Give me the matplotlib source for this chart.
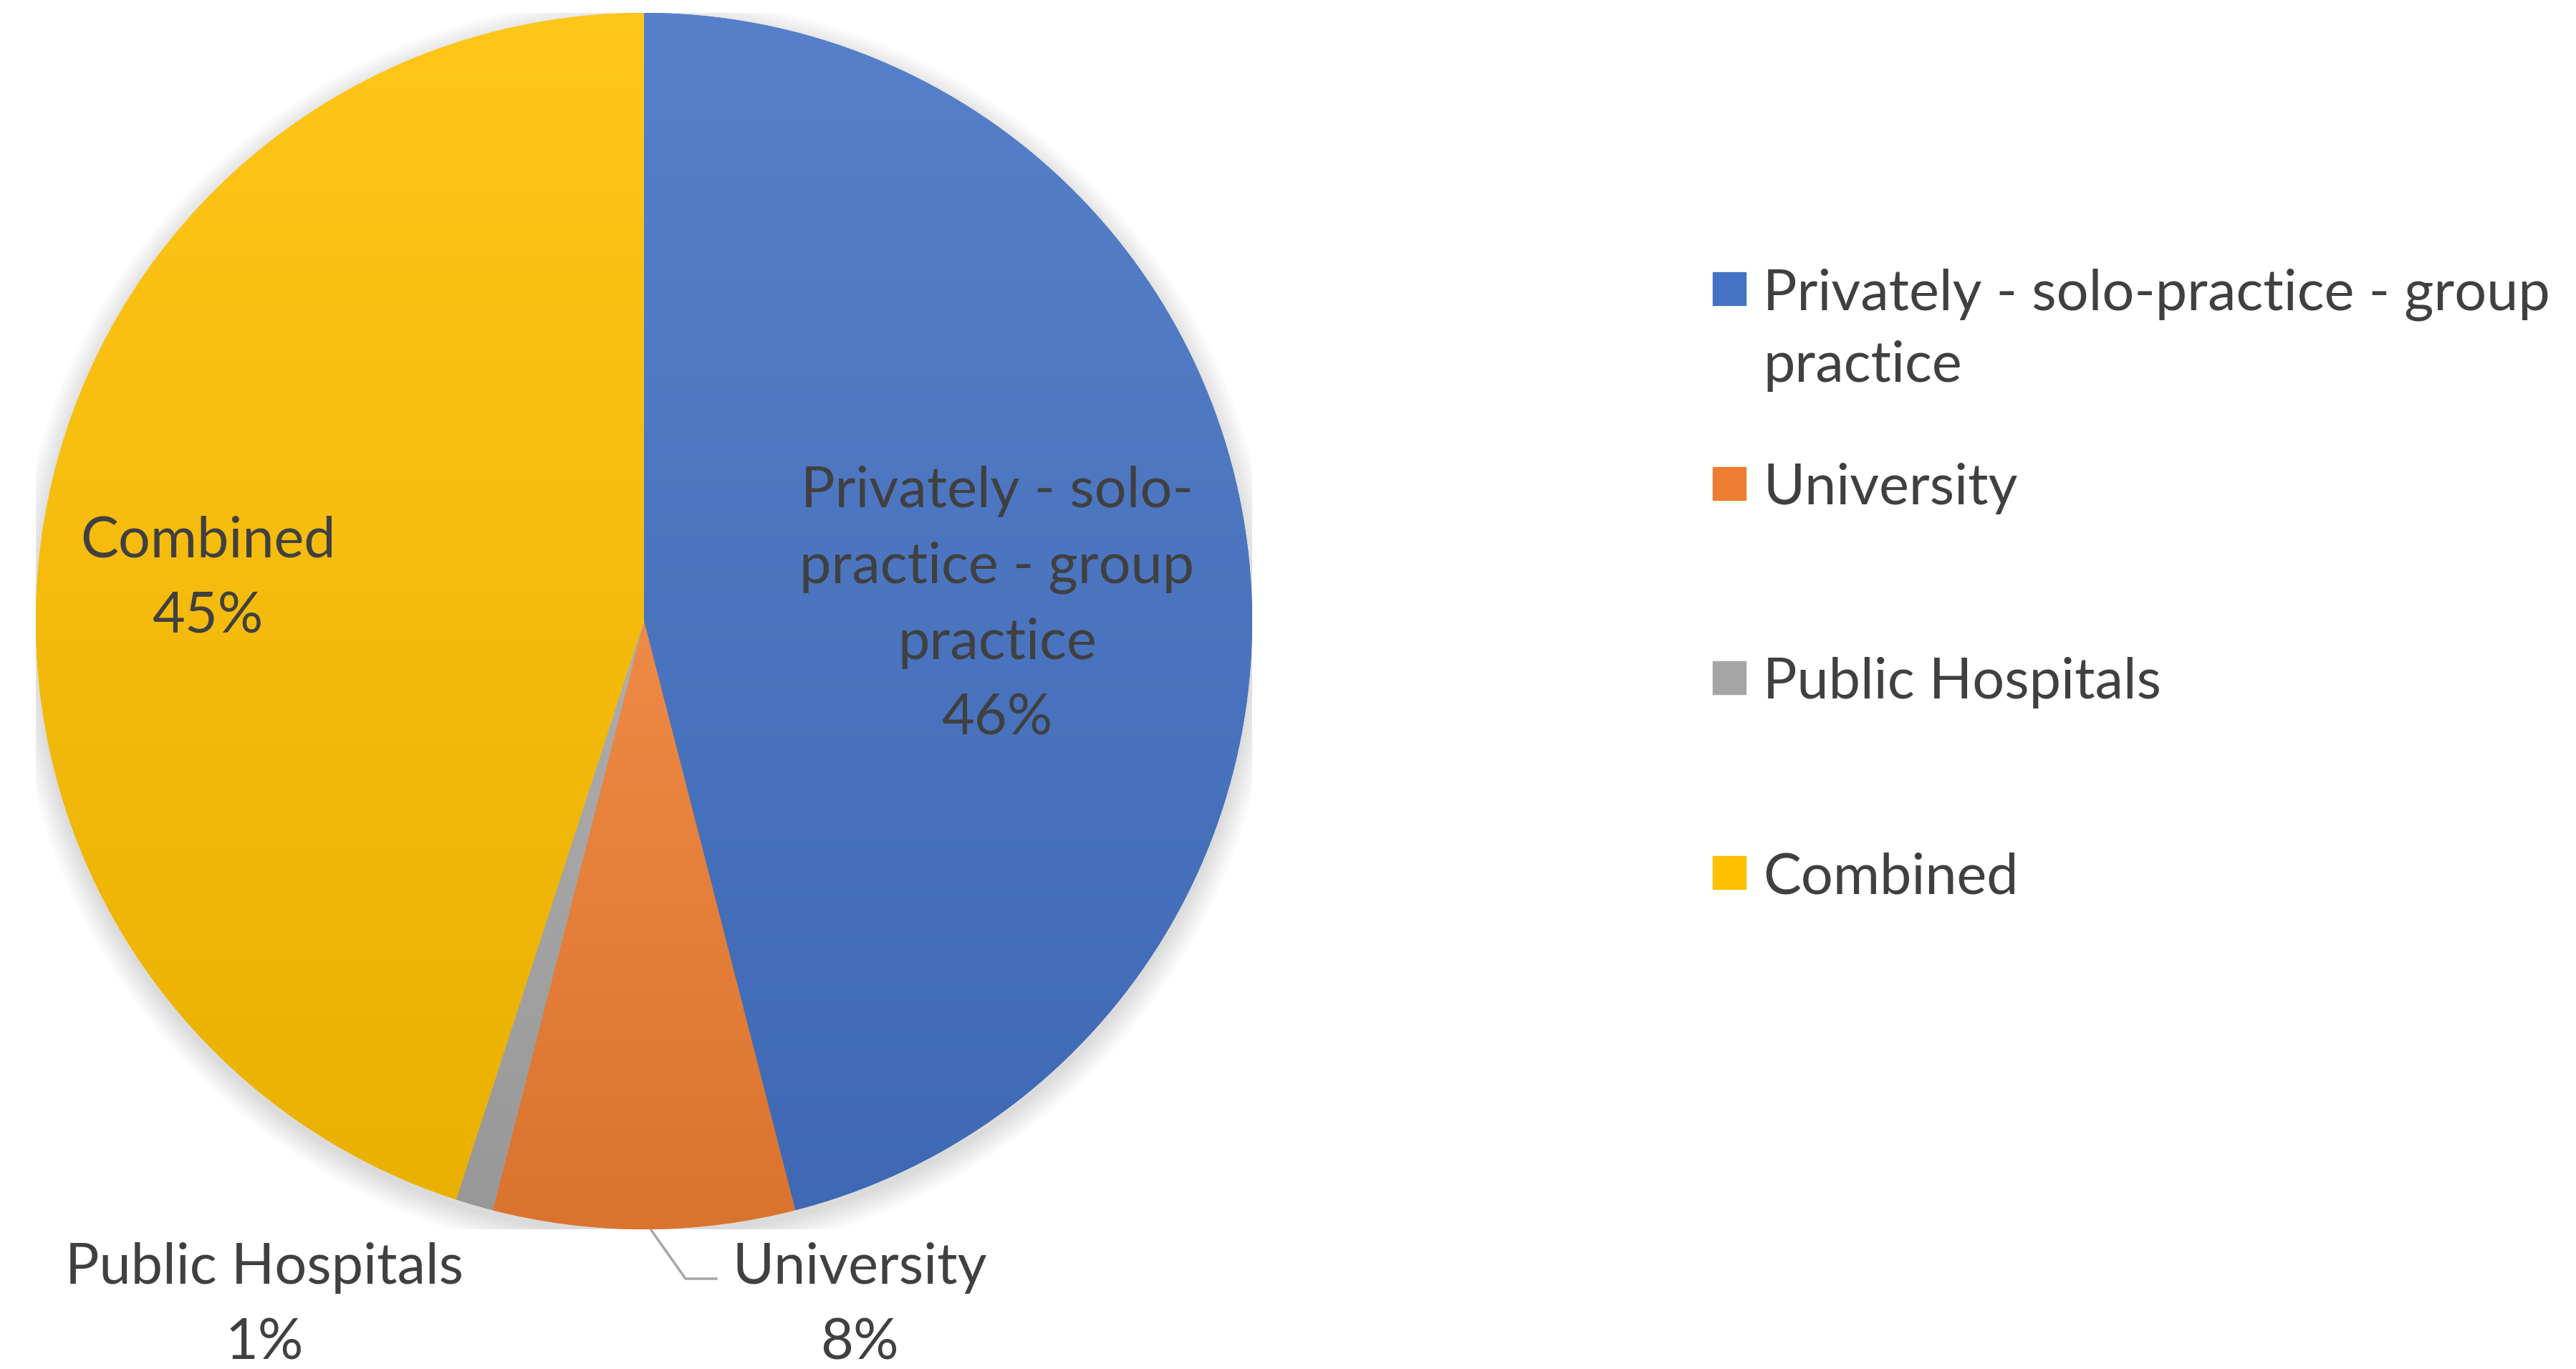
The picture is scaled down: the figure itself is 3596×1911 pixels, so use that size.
import matplotlib
matplotlib.use("Agg")
import matplotlib.pyplot as plt
import numpy as np
from matplotlib.colors import to_rgb
from matplotlib.patches import Rectangle, Circle

categories = ["Privately - solo-practice - group practice", "University",
              "Public Hospitals", "Combined"]
values = [46, 8, 1, 45]
pct_labels = ["46%", "8%", "1%", "45%"]
legend_labels = ["Privately - solo-practice - group\npractice", "University",
                 "Public Hospitals", "Combined"]
slice_labels = ["Privately - solo-\npractice - group\npractice", "University",
                "Public Hospitals", "Combined"]
colors = ["#4472C4", "#ED7D31", "#A5A5A5", "#FFC000"]

plt.rcParams['font.family'] = ['Lato', 'DejaVu Sans']
TXT = "#404040"
FS = 57

W, H, DPI = 3596, 1911, 100
fig = plt.figure(figsize=(W / DPI, H / DPI), dpi=DPI)
fig.patch.set_facecolor("white")

cx, cy, R = 899, 867, 849  # pixel geometry of pie (from top)
ax = fig.add_axes([(cx - R) / W, (H - cy - R) / H, 2 * R / W, 2 * R / H])
ax.set_xlim(-1, 1)
ax.set_ylim(-1, 1)
ax.set_aspect("equal")
ax.axis("off")

# soft shadow
for k in range(12):
    ax.add_patch(Circle((0, -0.012), 1.0 + k * 0.0035, color="black",
                        alpha=0.012, lw=0, zorder=0))

wedges, _ = ax.pie(values, colors=colors, startangle=90, counterclock=False,
                   radius=1.0, wedgeprops=dict(linewidth=0, zorder=2))
ax.set_xlim(-1, 1)
ax.set_ylim(-1, 1)


def shade(c, f):
    r = np.array(to_rgb(c))
    if f >= 0:
        return r + (1 - r) * f
    return r * (1 + f)


for w, c in zip(wedges, colors):
    path = w.get_path().transformed(w.get_patch_transform())
    v = path.vertices
    x0, x1 = v[:, 0].min(), v[:, 0].max()
    y0, y1 = v[:, 1].min(), v[:, 1].max()
    n = 256
    t = np.linspace(0, 1, n)[:, None]
    top, bot = shade(c, 0.10), shade(c, -0.08)
    grad = (top[None, :] * (1 - t) + bot[None, :] * t)[:, None, :]
    im = ax.imshow(grad, extent=(x0, x1, y0, y1), origin="upper",
                   aspect="auto", zorder=3, interpolation="bilinear")
    im.set_clip_path(w)
ax.set_xlim(-1, 1)
ax.set_ylim(-1, 1)


def px2d(x, y):
    return (x - cx) / R, (cy - y) / R


# data labels: (x centre, last-line baseline) in pixels
lab_pos = {
    0: (1392, 1025),
    1: (1200, 1897),
    2: (369, 1897),
    3: (290, 883),
}
for i, (px, py) in lab_pos.items():
    x, y = px2d(px, py)
    ax.text(x, y, f"{slice_labels[i]}\n{pct_labels[i]}", ha="center",
            va="baseline", multialignment="center", fontsize=FS, color=TXT,
            linespacing=1.57, zorder=5, clip_on=False)

# leader line for University
lx, ly = zip(px2d(909, 1717), px2d(957, 1785), px2d(1000, 1785))
ax.plot(lx, ly, color="#A6A6A6", lw=2.5, zorder=4, clip_on=False)

# legend: (first-line baseline, last-line baseline)
leg_base = [(432, 533), (704, 704), (975, 975), (1247, 1247)]
MS = 46
for lab, c, (y1, y2) in zip(legend_labels, colors, leg_base):
    yc = y1 - 29
    fig.patches.append(Rectangle((2391 / W, (H - yc - MS / 2) / H), MS / W, MS / H,
                                 transform=fig.transFigure, color=c))
    fig.text(2461 / W, (H - y2) / H, lab, ha="left", va="baseline",
             fontsize=FS, color=TXT, linespacing=1.47,
             transform=fig.transFigure)

fig.savefig("out.png", dpi=DPI, facecolor="white")
